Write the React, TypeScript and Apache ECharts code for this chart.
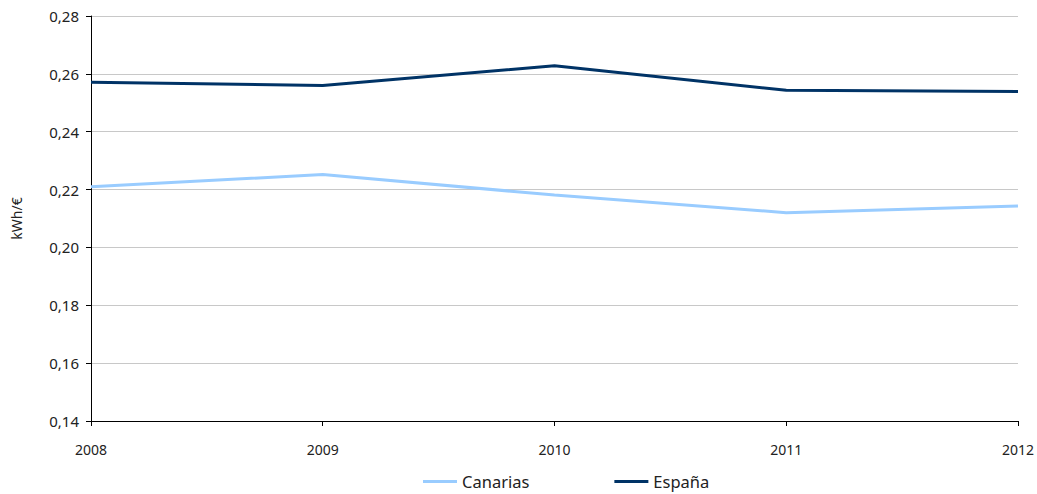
import React, { useEffect, useRef } from "react";
import * as echarts from "echarts";

const years = ["2008", "2009", "2010", "2011", "2012"];
const canarias = [0.221, 0.2252, 0.2181, 0.212, 0.2143];
const espana = [0.2571, 0.256, 0.2628, 0.2543, 0.2539];
const yTicks = { min: 0.14, max: 0.28, interval: 0.02 };

const FONT = "Noto Sans";

export default function App() {
  const ref = useRef<HTMLDivElement>(null);
  useEffect(() => {
    const chart = echarts.init(ref.current!, undefined, { renderer: "svg" });
    chart.setOption({
      animation: false,
      grid: { left: 91, right: 18, top: 16, bottom: 73 },
      legend: {
        bottom: 4,
        left: 423,
        padding: 0,
        icon: "rect",
        itemWidth: 34,
        itemHeight: 3,
        itemGap: 85,
        textStyle: { fontFamily: FONT, fontSize: 16.5, lineHeight: 16, color: "#222" },
        data: ["Canarias", "España"],
      },
      xAxis: {
        type: "category",
        data: years,
        boundaryGap: false,
        axisLine: { lineStyle: { color: "#000", width: 1 } },
        axisTick: { show: true, length: 5, inside: false, lineStyle: { color: "#000" } },
        axisLabel: { fontFamily: FONT, fontSize: 14, color: "#222", margin: 21 },
        splitLine: { show: false },
      },
      yAxis: {
        type: "value",
        min: yTicks.min,
        max: yTicks.max,
        interval: yTicks.interval,
        name: "kWh/€",
        nameLocation: "middle",
        nameGap: 68,
        nameRotate: 90,
        nameTextStyle: { fontFamily: FONT, fontSize: 14, color: "#222" },
        axisLine: { show: true, lineStyle: { color: "#000", width: 1 } },
        axisTick: { show: true, length: 5, lineStyle: { color: "#000" } },
        axisLabel: {
          fontFamily: FONT,
          fontSize: 15,
          color: "#222",
          margin: 12,
          padding: [5, 0, 0, 0],
          formatter: (v: number) => v.toFixed(2).replace(".", ","),
        },
        splitLine: { show: true, lineStyle: { color: "#c8c8c8", width: 1 } },
      },
      series: [
        {
          name: "Canarias",
          type: "line",
          data: canarias,
          symbol: "none",
          color: "#99ccff",
          lineStyle: { width: 3, color: "#99ccff" },
        },
        {
          name: "España",
          type: "line",
          data: espana,
          symbol: "none",
          color: "#003366",
          lineStyle: { width: 3, color: "#003366" },
        },
      ],
    });
    return () => chart.dispose();
  }, []);
  return (
    <div
      ref={ref}
      style={{ position: "absolute", left: 0, top: 0, width: 1037, height: 494 }}
    />
  );
}
